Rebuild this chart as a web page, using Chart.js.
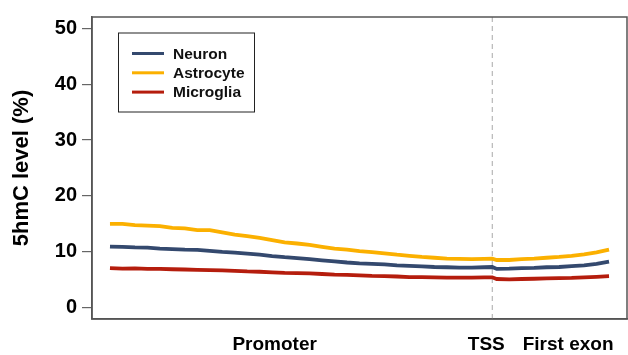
<!DOCTYPE html>
<html>
<head>
<meta charset="utf-8">
<script src="https://cdn.jsdelivr.net/npm/chart.js@4/dist/chart.umd.min.js"></script>
<style>
  html, body { margin: 0; padding: 0; background: #fff; }
  #wrap { width: 628px; height: 355px; }
</style>
</head>
<body>
<div id="wrap"><canvas id="c" width="628" height="355"></canvas></div>
<script>
// Relative position along the gene body (0 = start of promoter window, 100 = end of first exon)
const positions = [0, 2.5, 5, 7.5, 10, 12.5, 15, 17.5, 20, 22.5, 25, 27.5, 30, 32.5, 35, 37.5, 40, 42.5, 45, 47.5,
  50, 52.5, 55, 57.5, 60, 62.5, 65, 67.5, 70, 72.5, 75, 76.6, 77.5, 80, 82.5, 85, 87.5, 90, 92.5, 95, 97.5, 100];

const tssPosition = 76.6;

// 5hmC level (%) per cell type
const neuron = [10.95, 10.9, 10.8, 10.75, 10.6, 10.5, 10.4, 10.35, 10.2, 10.0, 9.85, 9.7, 9.5, 9.25, 9.05, 8.9, 8.7, 8.5, 8.3, 8.1,
  7.95, 7.85, 7.75, 7.6, 7.5, 7.4, 7.3, 7.25, 7.2, 7.2, 7.25, 7.3, 6.95, 7.0, 7.1, 7.15, 7.25, 7.3, 7.45, 7.6, 7.85, 8.25];
const astrocyte = [15.0, 15.0, 14.8, 14.7, 14.6, 14.3, 14.2, 13.9, 13.9, 13.5, 13.1, 12.8, 12.5, 12.1, 11.7, 11.5, 11.25, 10.9, 10.6, 10.4,
  10.15, 9.95, 9.75, 9.5, 9.3, 9.1, 8.95, 8.8, 8.75, 8.7, 8.75, 8.8, 8.55, 8.55, 8.7, 8.8, 8.95, 9.1, 9.3, 9.55, 9.9, 10.4];
const microglia = [7.1, 7.0, 7.05, 6.95, 6.95, 6.9, 6.85, 6.8, 6.75, 6.7, 6.6, 6.5, 6.45, 6.35, 6.25, 6.2, 6.15, 6.05, 5.95, 5.9,
  5.8, 5.7, 5.65, 5.6, 5.5, 5.5, 5.45, 5.4, 5.4, 5.4, 5.45, 5.45, 5.15, 5.1, 5.15, 5.2, 5.25, 5.3, 5.35, 5.45, 5.55, 5.65];

const seriesNames = ['Neuron', 'Astrocyte', 'Microglia'];
const seriesColors = ['#34496e', '#fbb000', '#b51d0d'];

const yTicks = [0, 10, 20, 30, 40, 50];
const xTickLabels = ['Promoter', 'TSS', 'First exon'];
const xTickPositions = [33.0, 75.4, 91.8];

const FONT = '"Liberation Sans", Arial, Helvetica, sans-serif';

const toPoints = vals => vals.map((v, i) => ({ x: positions[i], y: v }));

// Box around the plotting region plus the in-plot legend
const framePlugin = {
  id: 'frameAndLegend',
  afterDraw(chart) {
    const { ctx, chartArea: a } = chart;
    ctx.save();
    ctx.strokeStyle = '#555';
    ctx.lineWidth = 1.5;
    ctx.strokeRect(a.left, a.top, a.right - a.left, a.bottom - a.top);

    const lx = a.left + 26, ly = a.top + 15.5, lw = 136, lh = 79;
    ctx.lineWidth = 1;
    ctx.strokeStyle = '#222';
    ctx.strokeRect(lx + 0.5, ly + 0.5, lw, lh);
    ctx.font = 'bold 15.5px ' + FONT;
    ctx.textBaseline = 'middle';
    ctx.textAlign = 'left';
    seriesNames.forEach((name, i) => {
      const y = ly + 21 + i * 19.3;
      ctx.strokeStyle = seriesColors[i];
      ctx.lineWidth = 3;
      ctx.beginPath();
      ctx.moveTo(lx + 14, y);
      ctx.lineTo(lx + 46, y);
      ctx.stroke();
      ctx.fillStyle = '#111';
      ctx.fillText(name, lx + 55, y + 1);
    });
    ctx.restore();
  }
};

const datasets = seriesNames.map((name, i) => ({
  label: name,
  data: toPoints([neuron, astrocyte, microglia][i]),
  borderColor: seriesColors[i],
  borderWidth: 3.8,
  pointRadius: 0,
  tension: 0,
  fill: false
}));
datasets.push({
  label: 'TSS',
  data: [{ x: tssPosition, y: -2 }, { x: tssPosition, y: 52 }],
  borderColor: '#a8a8a8',
  borderWidth: 1,
  borderDash: [5, 4],
  pointRadius: 0,
  fill: false
});

new Chart(document.getElementById('c'), {
  type: 'line',
  data: { datasets },
  plugins: [framePlugin],
  options: {
    responsive: false,
    animation: false,
    devicePixelRatio: 1,
    layout: { padding: { left: 0, top: 7.5, right: 1, bottom: 0 } },
    plugins: { legend: { display: false }, tooltip: { enabled: false } },
    scales: {
      x: {
        type: 'linear',
        min: -3.6,
        max: 103.6,
        afterBuildTicks: s => { s.ticks = xTickPositions.map(v => ({ value: v })); },
        afterFit: s => { s.height = 36; },
        grid: { display: false },
        border: { display: true, color: '#555', width: 1.5 },
        ticks: {
          autoSkip: false,
          maxRotation: 0,
          padding: 6,
          color: '#000',
          font: { family: FONT, size: 19, weight: 'bold' },
          callback: (v, idx) => xTickLabels[idx]
        }
      },
      y: {
        min: -2,
        max: 52,
        afterBuildTicks: s => { s.ticks = yTicks.map(v => ({ value: v })); },
        afterFit: s => { s.width = 92; },
        grid: { drawOnChartArea: false, drawTicks: true, tickLength: 10, color: '#666', lineWidth: 1.2 },
        border: { display: true, color: '#555', width: 1.5 },
        ticks: {
          padding: 5,
          color: '#000',
          font: { family: FONT, size: 20, weight: 'bold' }
        },
        title: {
          display: true,
          text: '5hmC level (%)',
          color: '#000',
          padding: { top: 9, bottom: 0 },
          font: { family: FONT, size: 22, weight: 'bold' }
        }
      }
    }
  }
});
</script>
</body>
</html>
